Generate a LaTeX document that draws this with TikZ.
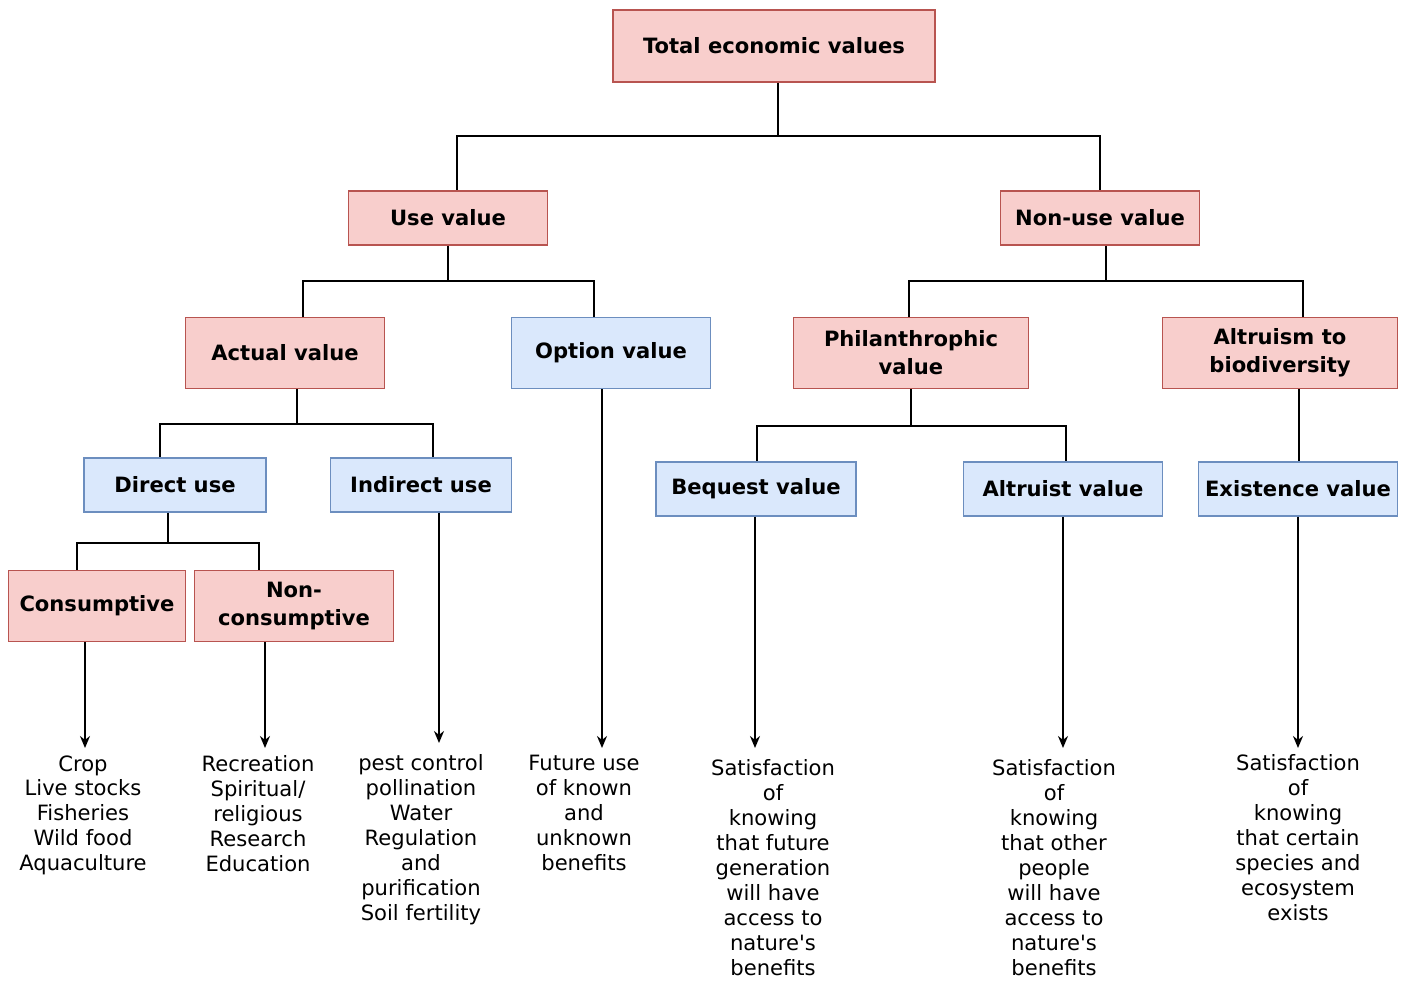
\documentclass[tikz,border=0pt]{standalone}
\usepackage{fontspec}
\setmainfont{DejaVu Sans}
\usetikzlibrary{arrows.meta, positioning}
\definecolor{pinkfill}{HTML}{F8CECC}
\definecolor{pinkline}{HTML}{B85450}
\definecolor{bluefill}{HTML}{DAE8FC}
\definecolor{blueline}{HTML}{6C8EBF}

\begin{document}
\begin{tikzpicture}[x=0.2mm, y=-0.2mm, >={Stealth[length=2.4mm, width=2mm]},
    pinkbox/.style={draw=pinkline, fill=pinkfill, line width=0.8pt, align=center,
        inner sep=2pt, font=\fontsize{12}{16}\selectfont\bfseries},
    bluebox/.style={draw=blueline, fill=bluefill, line width=0.8pt, align=center,
        inner sep=2pt, font=\fontsize{12}{16}\selectfont\bfseries},
    leaf/.style={align=center, anchor=north, inner sep=0pt, font=\fontsize{12}{14.2}\selectfont},
    tree/.style={line width=1.6pt},
    arr/.style={->, line width=1pt}]
    \useasboundingbox (0,0) rectangle (1406,981);

    % top levels
    \node[pinkbox, minimum width=6.44cm, minimum height=1.44cm] (total) at (774,46) {Total economic values};
    \node[pinkbox, minimum width=3.98cm, minimum height=1.08cm] (usev) at (448,218) {Use value};
    \node[pinkbox, minimum width=3.98cm, minimum height=1.08cm] (nonuse) at (1100,218) {Non-use value};

    % third level
    \node[pinkbox, minimum width=3.98cm, minimum height=1.42cm] (actual) at (285,353) {Actual value};
    \node[bluebox, minimum width=3.98cm, minimum height=1.42cm] (option) at (611,353) {Option value};
    \node[pinkbox, minimum width=4.7cm, minimum height=1.42cm] (philan) at (911,353) {Philanthrophic\\value};
    \node[pinkbox, minimum width=4.7cm, minimum height=1.42cm] (altbio) at (1280,353) {Altruism to\\biodiversity};

    % fourth level
    \node[bluebox, minimum width=3.64cm, minimum height=1.08cm] (direct) at (175,485) {Direct use};
    \node[bluebox, minimum width=3.62cm, minimum height=1.08cm] (indirect) at (421,485) {Indirect use};
    \node[bluebox, minimum width=4.0cm, minimum height=1.08cm] (bequest) at (756,489) {Bequest value};
    \node[bluebox, minimum width=3.98cm, minimum height=1.08cm] (altruist) at (1063,489) {Altruist value};
    \node[bluebox, minimum width=3.98cm, minimum height=1.08cm] (exist) at (1298,489) {Existence value};

    % fifth level
    \node[pinkbox, minimum width=3.54cm, minimum height=1.42cm] (consum) at (97,606) {Consumptive};
    \node[pinkbox, minimum width=3.98cm, minimum height=1.42cm] (noncons) at (294,606) {Non-\\consumptive};

    % leaves
    \node[leaf] (crop) at (83,755) {Crop\\Live stocks\\Fisheries\\Wild food\\Aquaculture};
    \node[leaf] (recre) at (258,755) {Recreation\\Spiritual/\\religious\\Research\\Education};
    \node[leaf] (pest) at (421,754) {pest control\\pollination\\Water\\Regulation\\and\\purification\\Soil fertility};
    \node[leaf] (future) at (584,755) {Future use\\of known\\and\\unknown\\benefits};
    \node[leaf] (satbeq) at (773,759) {Satisfaction\\of\\knowing\\that future\\generation\\will have\\access to\\nature\textquotesingle s\\benefits};
    \node[leaf] (satalt) at (1054,759) {Satisfaction\\of\\knowing\\that other\\people\\will have\\access to\\nature\textquotesingle s\\benefits};
    \node[leaf] (satexi) at (1298,754) {Satisfaction\\of\\knowing\\that certain\\species and\\ecosystem\\exists};

    % tree connectors
    \draw[tree] (total.south -| 778,0) -- (778,136) -| (usev.north -| 457,0);
    \draw[tree] (778,136) -| (nonuse.north);
    \draw[tree] (usev.south) -- (448,281) -| (actual.north -| 303,0);
    \draw[tree] (448,281) -| (option.north -| 594,0);
    \draw[tree] (nonuse.south -| 1106,0) -- (1106,281) -| (philan.north -| 909,0);
    \draw[tree] (1106,281) -| (altbio.north -| 1303,0);
    \draw[tree] (actual.south -| 297,0) -- (297,424) -| (direct.north -| 160,0);
    \draw[tree] (297,424) -| (indirect.north -| 433,0);
    \draw[tree] (philan.south) -- (911,426) -| (bequest.north -| 757,0);
    \draw[tree] (911,426) -| (altruist.north -| 1066,0);
    \draw[tree] (altbio.south -| 1299,0) -- (exist.north -| 1299,0);
    \draw[tree] (direct.south -| 168,0) -- (168,543) -| (consum.north -| 77,0);
    \draw[tree] (168,543) -| (noncons.north -| 259,0);

    % arrows to leaves
    \draw[arr] (consum.south -| 85,0) -- (85,748);
    \draw[arr] (noncons.south -| 265,0) -- (265,748);
    \draw[arr] (indirect.south -| 439,0) -- (439,743);
    \draw[arr] (option.south -| 602,0) -- (602,748);
    \draw[arr] (bequest.south -| 755,0) -- (755,748);
    \draw[arr] (altruist.south -| 1063,0) -- (1063,748);
    \draw[arr] (exist.south -| 1298,0) -- (1298,748);
\end{tikzpicture}
\end{document}
